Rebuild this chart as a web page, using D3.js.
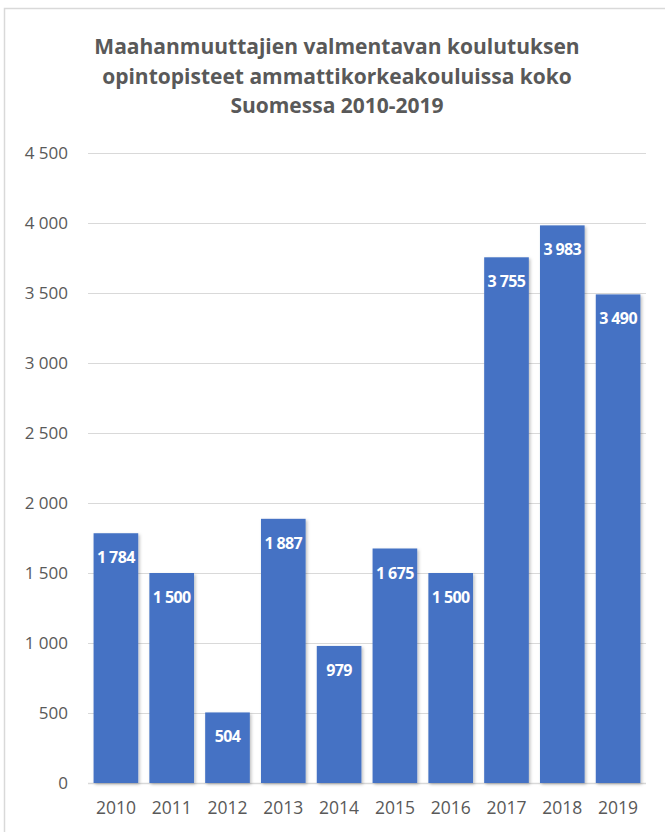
<!DOCTYPE html>
<html>
<head>
<meta charset="utf-8">
<script src="https://cdn.jsdelivr.net/npm/d3@7"></script>
<style>
  body { margin: 0; background: #fff; }
  text { font-family: "Open Sans", "Noto Sans", sans-serif; }
</style>
</head>
<body>
<div id="chart"></div>
<script>
const years = ["2010", "2011", "2012", "2013", "2014", "2015", "2016", "2017", "2018", "2019"];
const credits = [1784, 1500, 504, 1887, 979, 1675, 1500, 3755, 3983, 3490];
const yTicks = [0, 500, 1000, 1500, 2000, 2500, 3000, 3500, 4000, 4500];
const titleLines = [
    "Maahanmuuttajien valmentavan koulutuksen",
    "opintopisteet ammattikorkeakouluissa koko",
    "Suomessa 2010-2019"
];

const width = 665, height = 832;
const margin = {top: 153, right: 19, bottom: 49, left: 88};

// finnish style thousand separator
const fmt = d => d3.format(",")(d).replace(/,/g, " ");

const svg = d3.select("#chart")
    .append("svg")
    .attr("width", width)
    .attr("height", height);

// soft shadow like the spreadsheet bars
const defs = svg.append("defs");
const shadow = defs.append("filter").attr("id", "shadow")
    .attr("x", "-20%").attr("y", "-5%").attr("width", "140%").attr("height", "110%");
shadow.append("feDropShadow")
    .attr("dx", 1.5).attr("dy", 1.5).attr("stdDeviation", 1.5)
    .attr("flood-color", "#000").attr("flood-opacity", 0.25);

// chart frame
svg.append("rect")
    .attr("x", 4.5).attr("y", 8.5)
    .attr("width", width + 20).attr("height", height + 20)
    .attr("fill", "none")
    .attr("stroke", "#d9d9d9")
    .attr("stroke-width", 1.5);

svg.append("g")
    .selectAll("text")
    .data(titleLines)
    .enter().append("text")
    .attr("x", 337)
    .attr("y", (d, i) => 54 + i * 29.5)
    .attr("text-anchor", "middle")
    .attr("font-size", 21)
    .attr("font-weight", "bold")
    .attr("fill", "#595959")
    .text(d => d);

const x = d3.scaleBand()
    .domain(years)
    .range([margin.left, width - margin.right])
    .paddingInner(0.2)
    .paddingOuter(0.1);

const y = d3.scaleLinear()
    .domain([0, 4500])
    .range([height - margin.bottom, margin.top]);

// gridlines
svg.append("g")
    .selectAll("line")
    .data(yTicks)
    .enter().append("line")
    .attr("x1", margin.left)
    .attr("x2", width - margin.right)
    .attr("y1", d => Math.round(y(d)) + 0.5)
    .attr("y2", d => Math.round(y(d)) + 0.5)
    .attr("stroke", "#d9d9d9")
    .attr("stroke-width", d => d === 0 ? 1.5 : 1.2);

const yAxis = svg.append("g")
    .attr("transform", `translate(${margin.left - 20},0)`)
    .call(d3.axisLeft(y).tickValues(yTicks).tickFormat(fmt).tickSize(0).tickPadding(0));
yAxis.select(".domain").remove();
yAxis.selectAll("text")
    .attr("font-size", 17)
    .attr("fill", "#595959")
    .style("font-family", "'Open Sans', sans-serif");

const xAxis = svg.append("g")
    .attr("transform", `translate(0,${height - margin.bottom})`)
    .call(d3.axisBottom(x).tickSize(0).tickPadding(19));
xAxis.select(".domain").remove();
xAxis.selectAll("text")
    .attr("font-size", 17.5)
    .attr("fill", "#595959")
    .style("font-family", "'Open Sans', sans-serif");

const data = years.map((yr, i) => ({year: yr, value: credits[i]}));

svg.append("g")
    .selectAll("rect")
    .data(data)
    .enter().append("rect")
    .attr("x", d => x(d.year))
    .attr("y", d => y(d.value))
    .attr("width", x.bandwidth())
    .attr("height", d => y(0) - y(d.value))
    .attr("fill", "#4472c4")
    .attr("filter", "url(#shadow)");

svg.append("g")
    .selectAll("text")
    .data(data)
    .enter().append("text")
    .attr("x", d => x(d.year) + x.bandwidth() / 2)
    .attr("y", d => y(d.value) + 30)
    .attr("text-anchor", "middle")
    .attr("font-size", 16)
    .attr("font-weight", "bold")
    .attr("fill", "#fff")
    .attr("letter-spacing", -0.6)
    .text(d => fmt(d.value));
</script>
</body>
</html>
